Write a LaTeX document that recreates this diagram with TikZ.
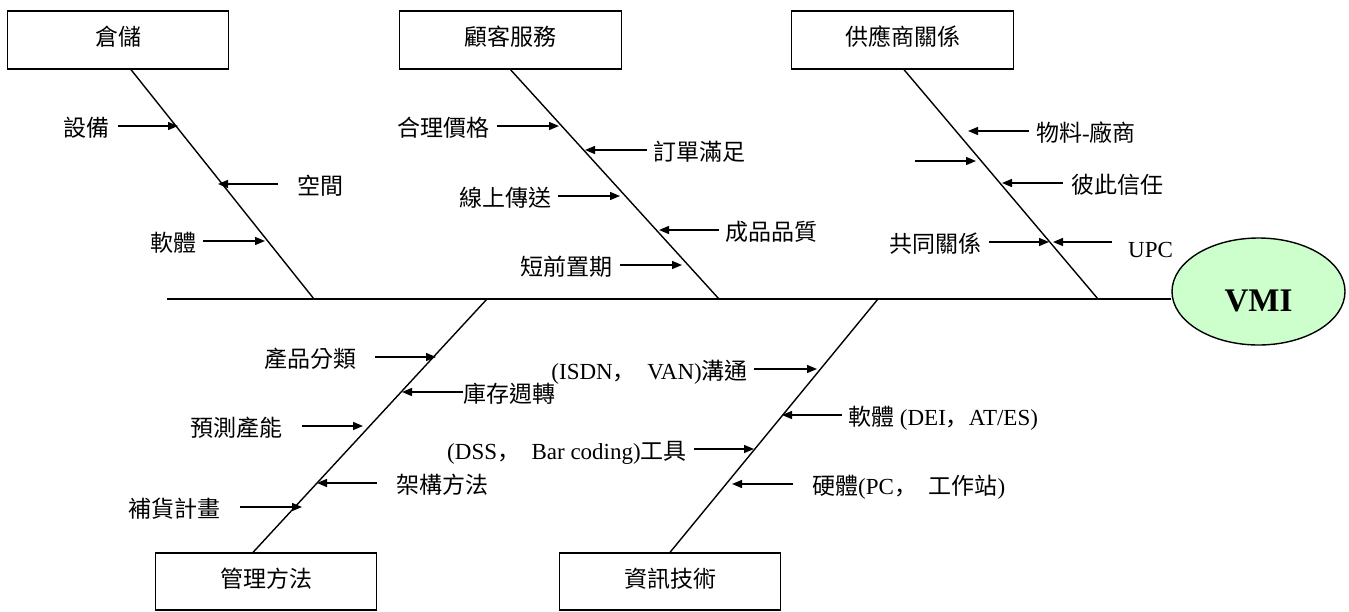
\documentclass[tikz,border=0pt]{standalone}
\usepackage{fontspec}
\setmainfont{Liberation Serif}
\newfontfamily\cjk{Noto Sans CJK TC}
\newfontfamily\cjksc{Noto Sans CJK SC}
\usetikzlibrary{arrows.meta,shapes.geometric}
\newcommand\C[1]{{\cjk #1}}
\newcommand\CM{{\cjksc ，}}
\definecolor{vmigreen}{RGB}{204,255,204}
\tikzset{
  box/.style={draw, line width=1.3pt, minimum width=221.5pt, minimum height=58pt, inner sep=0pt,
    text height=11.4pt, text depth=0pt, font=\fontsize{23}{27}\selectfont\cjk},
  bone/.style={line width=1.4pt},
  arr/.style={line width=1.4pt, -{Triangle[length=10pt,width=8pt]}},
  lbl/.style={inner ysep=0pt, text height=21.4pt, text depth=0pt, font=\fontsize{23}{27}\selectfont},
}
\begin{document}
\begin{tikzpicture}[x=1pt,y=-1pt]
\useasboundingbox (0,0) rectangle (1349,611);

% category boxes
\node[box] (w1) at (118,40) {倉儲};
\node[box] (w2) at (510.5,40) {顧客服務};
\node[box] (w3) at (902.5,40) {供應商關係};
\node[box, minimum height=57pt] (w4) at (266,581.5) {管理方法};
\node[box, minimum height=57pt] (w5) at (670,581.5) {資訊技術};

% head
\node[ellipse, draw, fill=vmigreen, line width=1.4pt, minimum width=173pt, minimum height=107pt,
  inner sep=0pt, text height=40.8pt, text depth=0pt,
  font=\fontsize{33}{36}\selectfont\bfseries] (vmi) at (1258.5,291.5) {VMI};

% spine
\coordinate (sL) at (167,299);
\draw[bone] (sL) -- (sL -| vmi.west);

% bones
\coordinate (j1) at (314,299);
\coordinate (j2) at (719,299);
\coordinate (j3) at (1098,299);
\coordinate (j4) at (487,299);
\coordinate (j5) at (878,299);
\draw[bone] ([xshift=13pt]w1.south) -- (j1);
\draw[bone] (w2.south) -- (j2);
\draw[bone] ([xshift=1.5pt]w3.south) -- (j3);
\draw[bone] ([xshift=-13pt]w4.north) -- (j4);
\draw[bone] (w5.north) -- (j5);

% bone 1
\node[lbl,anchor=east,inner xsep=8pt] (a1) at (118,126) {\C{設備}};
\coordinate (a1t) at (178,126); \draw[arr] (a1) -- (a1t);
\node[lbl,anchor=west,inner xsep=19pt] (a2) at (278,184) {\C{空間}};
\coordinate (a2t) at (218,184); \draw[arr] (a2) -- (a2t);
\node[lbl,anchor=east,inner xsep=6pt] (a3) at (203,241) {\C{軟體}};
\coordinate (a3t) at (265,241); \draw[arr] (a3) -- (a3t);

% bone 2
\node[lbl,anchor=east,inner xsep=7pt] (b1) at (497,126) {\C{合理價格}};
\coordinate (b1t) at (559,126); \draw[arr] (b1) -- (b1t);
\node[lbl,anchor=west,inner xsep=6pt] (b2) at (647,150) {\C{訂單滿足}};
\coordinate (b2t) at (585,150); \draw[arr] (b2) -- (b2t);
\node[lbl,anchor=east,inner xsep=6pt] (b3) at (558,196) {\C{線上傳送}};
\coordinate (b3t) at (620,196); \draw[arr] (b3) -- (b3t);
\node[lbl,anchor=west,inner xsep=6pt] (b4) at (719,230) {\C{成品品質}};
\coordinate (b4t) at (659,230); \draw[arr] (b4) -- (b4t);
\node[lbl,anchor=east,inner xsep=7pt] (b5) at (620,265) {\C{短前置期}};
\coordinate (b5t) at (682,265); \draw[arr] (b5) -- (b5t);

% bone 3
\node[lbl,anchor=west,inner xsep=7pt] (c1) at (1029,131) {\C{物料}-\C{廠商}};
\coordinate (c1t) at (968,131); \draw[arr] (c1) -- (c1t);
\coordinate (c2s) at (915,161);
\coordinate (c2t) at (976,161); \draw[arr] (c2s) -- (c2t);
\node[lbl,anchor=west,inner xsep=8pt] (c3) at (1063,183) {\C{彼此信任}};
\coordinate (c3t) at (1002,183); \draw[arr] (c3) -- (c3t);
\node[lbl,anchor=east,inner xsep=7pt] (c4) at (989,242) {\C{共同關係}};
\coordinate (c4t) at (1049,242); \draw[arr] (c4) -- (c4t);
\node[lbl,anchor=west,inner xsep=16pt, text height=31.2pt, text depth=0pt] (c5) at (1112,242) {UPC};
\coordinate (c5t) at (1053,242); \draw[arr] (c5) -- (c5t);

% bone 4
\node[lbl,anchor=east,inner xsep=18pt] (d1) at (375,357) {\C{產品分類}};
\coordinate (d1t) at (436,357); \draw[arr] (d1) -- (d1t);
\node[lbl,anchor=west,inner xsep=0pt] (d2) at (463,392) {\C{庫存週轉}};
\coordinate (d2t) at (402,392); \draw[arr] (d2) -- (d2t);
\node[lbl,anchor=east,inner xsep=19pt] (d3) at (302,426) {\C{預測產能}};
\coordinate (d3t) at (363,426); \draw[arr] (d3) -- (d3t);
\node[lbl,anchor=west,inner xsep=19pt] (d4) at (377,483) {\C{架構方法}};
\coordinate (d4t) at (317,483); \draw[arr] (d4) -- (d4t);
\node[lbl,anchor=east,inner xsep=19pt] (d5) at (240,507) {\C{補貨計畫}};
\coordinate (d5t) at (302,507); \draw[arr] (d5) -- (d5t);

% bone 5
\node[lbl,anchor=east,inner xsep=6pt] (e1) at (754,369) {(ISDN\CM\ \ VAN)\C{溝通}};
\coordinate (e1t) at (817,369); \draw[arr] (e1) -- (e1t);
\node[lbl,anchor=west,inner xsep=6pt] (e2) at (842,415) {\C{軟體}\ (DEI\CM AT/ES)};
\coordinate (e2t) at (782,415); \draw[arr] (e2) -- (e2t);
\node[lbl,anchor=east,inner xsep=7pt] (e3) at (694,449) {(DSS\CM\ \ Bar coding)\C{工具}};
\coordinate (e3t) at (754,449); \draw[arr] (e3) -- (e3t);
\node[lbl,anchor=west,inner xsep=19pt] (e4) at (793,484) {\C{硬體}(PC\CM\ \ \C{工作站})};
\coordinate (e4t) at (732,484); \draw[arr] (e4) -- (e4t);
\end{tikzpicture}
\end{document}
